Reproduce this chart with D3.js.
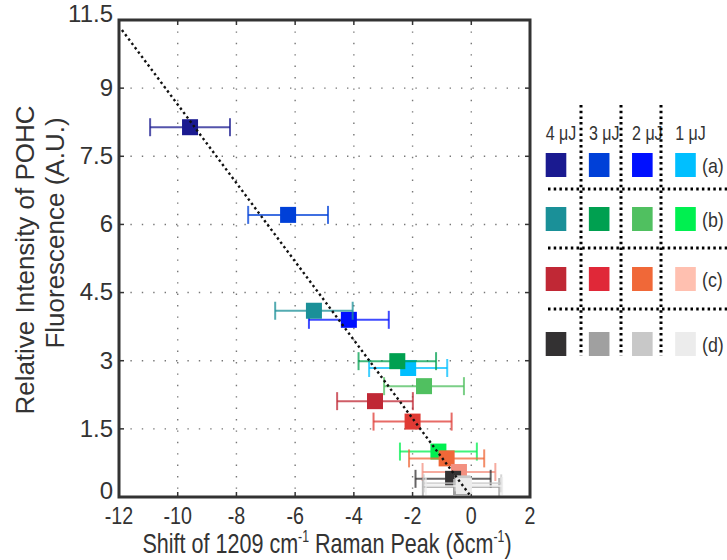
<!DOCTYPE html>
<html>
<head>
<meta charset="utf-8">
<script src="https://cdn.jsdelivr.net/npm/d3@7"></script>
<style>
  body { margin: 0; background: #fff; }
  text { font-family: "Liberation Sans", Arial, sans-serif; fill: #333; }
</style>
</head>
<body>
<div id="chart"></div>
<script>
const xTicks = [-12, -10, -8, -6, -4, -2, 0, 2];
const xGrid = [-10, -8, -6, -4, -2, 0];
const yTicks = [0, 1.5, 3, 4.5, 6, 7.5, 9, 10.5];
const yTickLabels = ["0", "1.5", "3", "4.5", "6", "7.5", "9", "11.5"];
const yGrid = [1.5, 3, 4.5, 6, 7.5, 9];

const energies = ["4 μJ", "3 μJ", "2 μJ", "1 μJ"];
const groups = ["(a)", "(b)", "(c)", "(d)"];

// colours per group, in energy order 4,3,2,1 uJ
const colorsA = ["#1a1a90", "#0040d8", "#0010ff", "#00bfff"];
const colorsB = ["#1a9098", "#00a050", "#50c060", "#00f050"];
const colorsC = ["#c02835", "#e03a34", "#f06838", "#f39080"];
const colorsD = ["#333132", "#a0a0a0", "#c8c8c8", "#ececec"];
const legendC = ["#c02835", "#e02838", "#f06838", "#ffc0b0"];

// shift (cm-1), intensity (A.U.), error on shift
const shiftA = [-9.58, -6.24, -4.17, -2.15];
const intensityA = [8.14, 6.21, 3.90, 2.84];
const errA = [1.36, 1.36, 1.36, 1.33];

const shiftB = [-5.36, -2.52, -1.61, -1.12];
const intensityB = [4.10, 2.99, 2.44, 1.00];
const errB = [1.32, 1.32, 1.36, 1.31];

const shiftC = [-3.28, -2.00, -0.84, -0.42];
const intensityC = [2.11, 1.66, 0.85, 0.55];
const errC = [1.29, 1.33, 1.28, 1.24];

const shiftD = [-0.62, -0.35, -0.30, -0.25];
const intensityD = [0.40, 0.22, 0.30, 0.24];
const errD = [1.28, 1.30, 1.32, 1.30];

const fitLine = [[-11.9, 10.28], [0, 0]];

const W = 727, H = 560;
const svg = d3.select("#chart").append("svg").attr("width", W).attr("height", H);

const mLeft = 119, mRight = 530, mTop = 20, mBottom = 497;
const x = d3.scaleLinear().domain([-12, 2]).range([mLeft, mRight]);
const y = d3.scaleLinear().domain([0, 10.5]).range([mBottom, mTop]);

// grid
svg.append("g").selectAll("line").data(xGrid).enter().append("line")
  .attr("x1", d => x(d)).attr("x2", d => x(d))
  .attr("y1", mTop).attr("y2", mBottom)
  .attr("stroke", "#777").attr("stroke-width", 1.4)
  .attr("stroke-dasharray", "1.4,10");
svg.append("g").selectAll("line").data(yGrid).enter().append("line")
  .attr("x1", mLeft).attr("x2", mRight)
  .attr("y1", d => y(d)).attr("y2", d => y(d))
  .attr("stroke", "#777").attr("stroke-width", 1.4)
  .attr("stroke-dasharray", "1.4,10");

// inward ticks
const tk = 5;
const ticks = svg.append("g").attr("stroke", "#333").attr("stroke-width", 1.5);
xTicks.forEach(v => {
  ticks.append("line").attr("x1", x(v)).attr("x2", x(v)).attr("y1", mBottom).attr("y2", mBottom - tk);
  ticks.append("line").attr("x1", x(v)).attr("x2", x(v)).attr("y1", mTop).attr("y2", mTop + tk);
});
yTicks.forEach(v => {
  ticks.append("line").attr("x1", mLeft).attr("x2", mLeft + tk).attr("y1", y(v)).attr("y2", y(v));
  ticks.append("line").attr("x1", mRight).attr("x2", mRight - tk).attr("y1", y(v)).attr("y2", y(v));
});

// series
const series = [
  { shift: shiftA, intensity: intensityA, err: errA, colors: colorsA },
  { shift: shiftB, intensity: intensityB, err: errB, colors: colorsB },
  { shift: shiftC, intensity: intensityC, err: errC, colors: colorsC },
  { shift: shiftD, intensity: intensityD, err: errD, colors: colorsD }
];
const ms = 16, cap = 9;
const marks = svg.append("g");
series.forEach(s => {
  s.shift.forEach((sx, i) => {
    const g = marks.append("g");
    const c = s.colors[i];
    const cy = y(s.intensity[i]);
    const x0 = x(sx - s.err[i]), x1 = x(sx + s.err[i]);
    g.append("line").attr("x1", x0).attr("x2", x1).attr("y1", cy).attr("y2", cy)
      .attr("stroke", c).attr("stroke-width", 2).attr("opacity", 0.75);
    [x0, x1].forEach(xx => g.append("line").attr("x1", xx).attr("x2", xx)
      .attr("y1", cy - cap).attr("y2", cy + cap)
      .attr("stroke", c).attr("stroke-width", 2).attr("opacity", 0.75));
    g.append("rect").attr("x", x(sx) - ms / 2).attr("y", cy - ms / 2)
      .attr("width", ms).attr("height", ms).attr("fill", c);
  });
});

// fit line
svg.append("path")
  .attr("d", d3.line().x(d => x(d[0])).y(d => y(d[1]))(fitLine))
  .attr("fill", "none").attr("stroke", "#111").attr("stroke-width", 2.4)
  .attr("stroke-dasharray", "2.4,3");

// frame
svg.append("rect").attr("x", mLeft).attr("y", mTop)
  .attr("width", mRight - mLeft).attr("height", mBottom - mTop)
  .attr("fill", "none").attr("stroke", "#333").attr("stroke-width", 3);

// squeezed text helper
function sText(parent, tx, ty, str, size, anchor, sx) {
  const g = parent.append("g").attr("transform", `translate(${tx},${ty}) scale(${sx},1)`);
  return g.append("text").attr("text-anchor", anchor).attr("font-size", size).text(str);
}

// y tick labels (end labels sit slightly inside)
yTicks.forEach((v, i) => {
  const last = i === 0 || i === yTicks.length - 1;
  svg.append("text").attr("x", 113).attr("y", y(v)).attr("dy", last ? "0.1em" : "0.33em")
    .attr("text-anchor", "end").attr("font-size", 24).text(yTickLabels[i]);
});
// x tick labels
xTicks.forEach(v => sText(svg, x(v), 523.5, String(v), 24, "middle", 0.82));

// x title
const xt = sText(svg, 327, 553, "", 28, "middle", 0.77);
xt.append("tspan").text("Shift of 1209 cm");
xt.append("tspan").attr("font-size", 16).attr("dy", -11).text("-1");
xt.append("tspan").attr("dy", 11).text(" Raman Peak (δcm");
xt.append("tspan").attr("font-size", 16).attr("dy", -11).text("-1");
xt.append("tspan").attr("dy", 11).text(")");

// y title
svg.append("text").attr("transform", "translate(33.5,260) rotate(-90)")
  .attr("text-anchor", "middle").attr("font-size", 26).text("Relative Intensity of POHC");
svg.append("text").attr("transform", "translate(64,233) rotate(-90)")
  .attr("text-anchor", "middle").attr("font-size", 26).text("Fluorescence (A.U.)");

// legend
const legendColors = [colorsA, colorsB, legendC, colorsD];
const colX = d3.scalePoint().domain(energies).range([556, 685.5]);
const rowY = d3.scaleOrdinal().domain(groups).range([165, 219, 279, 344]);
const lg = svg.append("g");
energies.forEach(e => sText(lg, colX(e) + 5, 140, e, 20, "middle", 0.8));
groups.forEach((gname, gi) => {
  energies.forEach((e, ei) => {
    lg.append("rect").attr("x", colX(e) - 10.3).attr("y", rowY(gname) - 12)
      .attr("width", 20.6).attr("height", 24).attr("fill", legendColors[gi][ei]);
  });
  sText(lg, 702, rowY(gname) + 8, gname, 21, "start", 0.85);
});
const sepV = [581, 621, 661];
const sepH = [189, 248, 309];
sepV.forEach(v => lg.append("line").attr("x1", v).attr("x2", v).attr("y1", 105).attr("y2", 356)
  .attr("stroke", "#000").attr("stroke-width", 3).attr("stroke-dasharray", "2.5,3.2"));
sepH.forEach(v => lg.append("line").attr("x1", 548).attr("x2", 727).attr("y1", v).attr("y2", v)
  .attr("stroke", "#000").attr("stroke-width", 3).attr("stroke-dasharray", "2.5,3.2"));
</script>
</body>
</html>
